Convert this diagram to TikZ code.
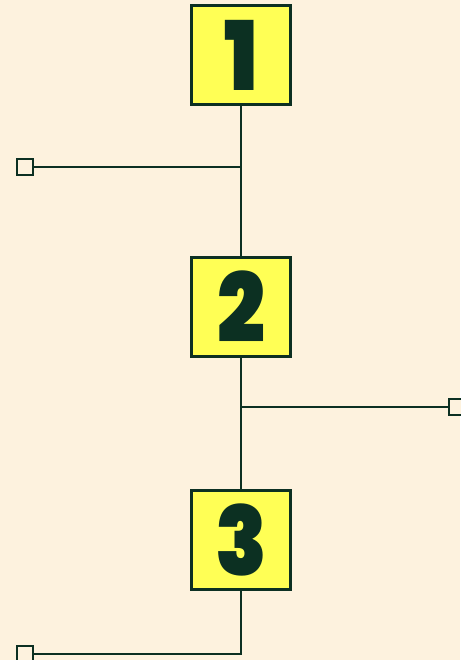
\documentclass[tikz,border=0pt]{standalone}
\usepackage{fontspec}
\newfontfamily\digitfont{Poppins Black}
\usetikzlibrary{positioning}
\definecolor{cream}{RGB}{253,242,222}
\definecolor{lemon}{RGB}{255,255,85}
\definecolor{pine}{RGB}{12,48,34}
\newcommand{\digit}[1]{\scalebox{0.88}[1]{#1}}
\begin{document}
\begin{tikzpicture}[x=1pt, y=-1pt]
          \tikzstyle{bnode} = [draw=pine, fill=lemon, line width=2.4pt, rectangle, minimum size=99pt, inner sep=0pt, text=pine, font=\digitfont\fontsize{96}{96}\selectfont]
          \tikzstyle{tnode} = [draw=pine, fill=cream, line width=2.6pt, rectangle, minimum size=16pt, inner sep=0pt]
          \tikzstyle{wire} = [draw=pine, line width=2.4pt]
          \fill[cream] (0,0) rectangle (460,660);
          \useasboundingbox (0,0) rectangle (460,660);

          \node[bnode] (b1) at (241, 55) {\digit{1}};
          \node[bnode] (b2) at (241, 307) {\digit{2}};
          \node[bnode] (b3) at (241, 540) {\digit{3}};

          \node[tnode] (t1) at (25, 167) {};
          \node[tnode] (t2) at (457, 407) {};
          \node[tnode] (t3) at (25, 654) {};

          \coordinate (j1) at (241, 167);
          \coordinate (j2) at (241, 407);

          \draw[wire] (b1) -- (b2);
          \draw[wire] (b2) -- (b3);
          \draw[wire] (j1) -- (t1);
          \draw[wire] (j2) -- (t2);
          \draw[wire] (b3) |- (t3);
        \end{tikzpicture}
\end{document}
